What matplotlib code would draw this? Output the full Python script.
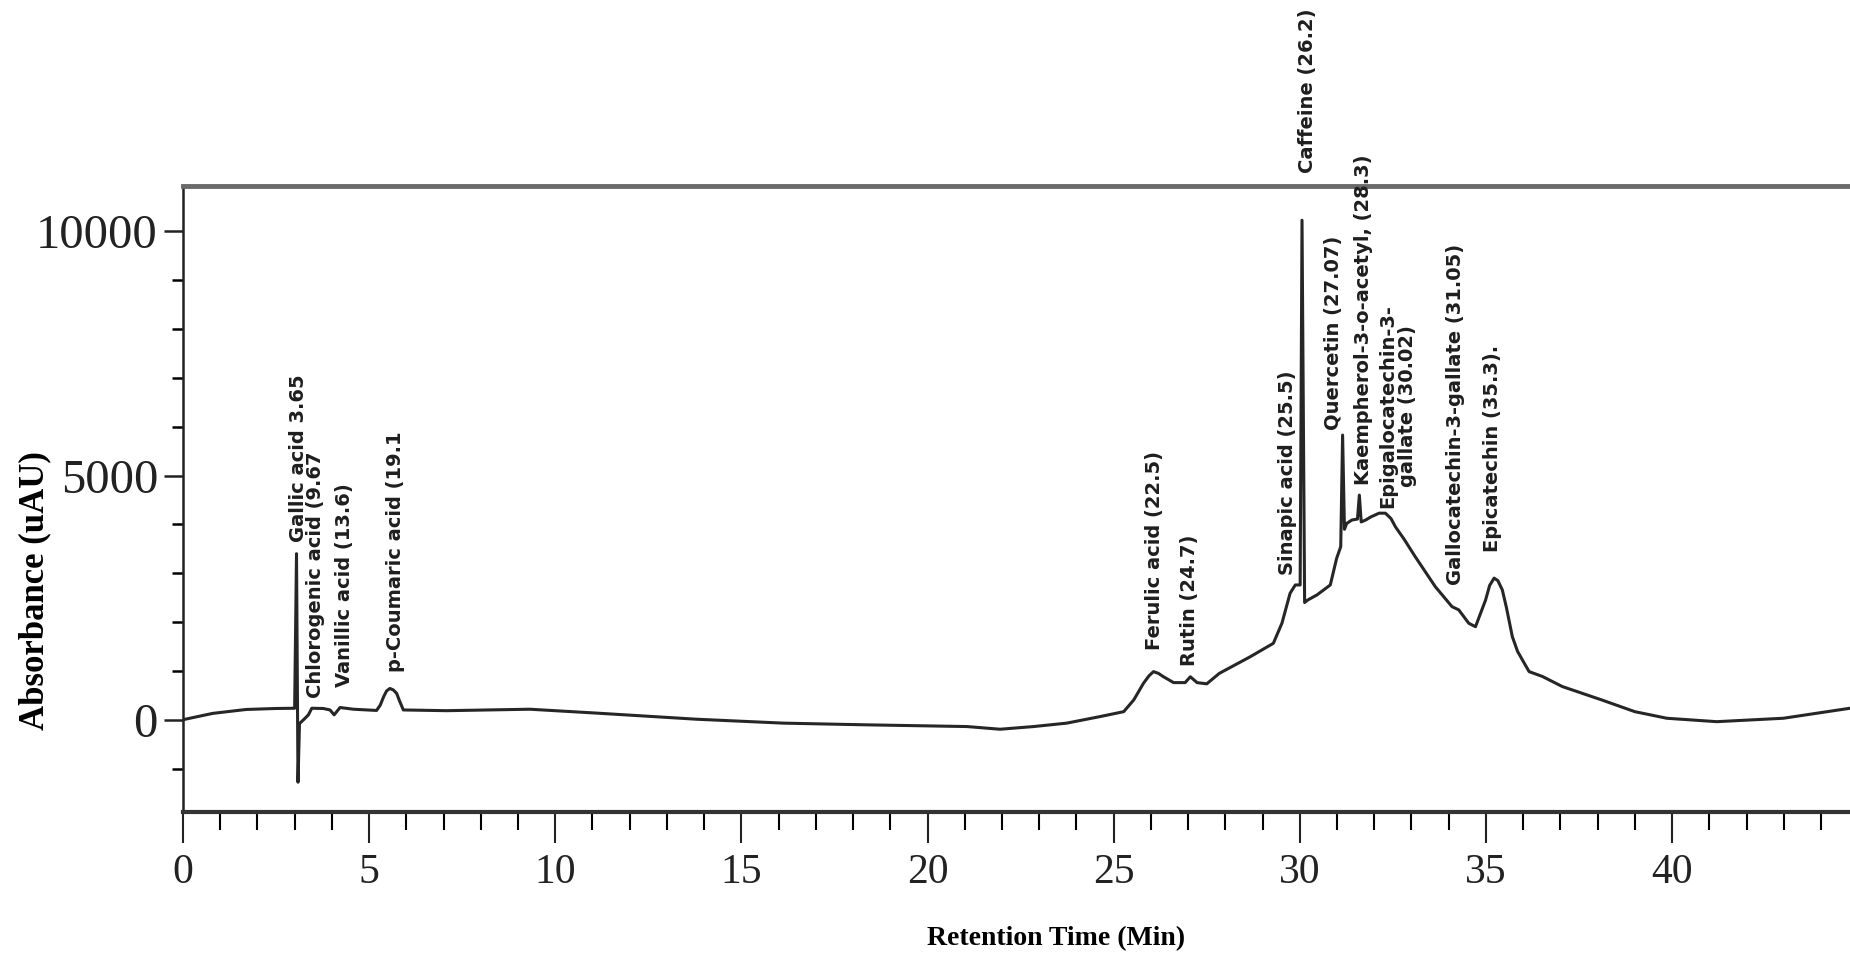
import matplotlib
matplotlib.use("Agg")
import matplotlib.pyplot as plt
from matplotlib.ticker import MultipleLocator, FixedLocator

# chromatogram trace (min, uAU)
time_min = [0.0, 0.8, 1.7, 2.5, 3.0, 3.05, 3.09, 3.13, 3.28, 3.37, 3.46, 3.77, 3.95, 4.06,
            4.22, 4.58, 5.2, 5.3, 5.39, 5.47, 5.56, 5.65, 5.74, 5.82, 5.92, 7.08, 9.32,
            11.12, 13.8, 16.13, 18.37, 21.06, 21.95, 22.85, 23.74, 24.64, 25.27, 25.54,
            25.8, 25.95, 26.07, 26.2, 26.34, 26.61, 26.92, 27.06, 27.24, 27.5, 27.84,
            28.67, 29.29, 29.52, 29.74, 29.88, 30.01, 30.06, 30.13, 30.21, 30.46, 30.82,
            30.99, 31.1, 31.15, 31.2, 31.26, 31.4, 31.55, 31.6, 31.65, 31.77, 31.9, 32.13,
            32.3, 32.45, 32.57, 32.8, 33.1, 33.64, 34.09, 34.27, 34.54, 34.72, 34.99, 35.1,
            35.22, 35.32, 35.44, 35.55, 35.71, 35.85, 35.98, 36.16, 36.52, 37.05, 38.13,
            39.0, 39.86, 41.2, 42.99, 44.78]
absorbance = [0, 130, 210, 230, 235, 3400, -1280, -80, 30, 100, 235, 230, 200, 100,
              250, 215, 190, 300, 470, 590, 640, 610, 540, 380, 200, 185, 215,
              135, 10, -70, -105, -140, -195, -140, -70, 65, 165, 405,
              745, 900, 985, 950, 880, 760, 760, 880, 760, 735, 950,
              1290, 1565, 1975, 2590, 2760, 2760, 10230, 2400, 2450, 2555, 2760,
              3305, 3545, 5830, 3900, 4020, 4090, 4110, 4600, 4050, 4090, 4150, 4230,
              4230, 4120, 3950, 3700, 3340, 2725, 2315, 2250, 1975, 1905, 2450, 2750,
              2900, 2850, 2660, 2300, 1700, 1400, 1225, 985, 885, 680, 400,
              165, 30, -40, 30, 235]

peak_names = ["Gallic acid 3.65", "Chlorogenic acid (9.67", "Vanillic acid (13.6)",
              "p-Coumaric acid (19.1", "Ferulic acid (22.5)", "Rutin (24.7)",
              "Sinapic acid (25.5)", "Caffeine (26.2)", "Quercetin (27.07)",
              "Kaempherol-3-o-acetyl, (28.3)", "Epigalocatechin-3-\ngallate (30.02)",
              "Gallocatechin-3-gallate (31.05)", "Epicatechin (35.3)."]
peak_label_x = [3.1, 3.56, 4.33, 5.7, 26.11, 27.04, 29.67, 30.2, 30.9, 31.7, 32.62, 34.17, 35.17]
peak_label_y = [3650, 440, 680, 985, 1430, 1090, 2960, 11190, 5930, 4800, 4330, 2760, 3440]

fig = plt.figure(figsize=(18.5, 9.58), dpi=100)
ax = fig.add_axes([0.0989, 0.1524, 0.9011, 0.6534])

ax.plot(time_min, absorbance, color="#262626", lw=2.2, solid_joinstyle="round")

for name, px, py in zip(peak_names, peak_label_x, peak_label_y):
    ax.text(px, py, name, rotation=90, ha="center", va="bottom", multialignment="center",
            linespacing=1.05, fontsize=14, fontweight="bold", family="DejaVu Sans",
            color="#1e1e1e", clip_on=False, zorder=5)

ax.set_xlim(0, 44.78)
ax.set_ylim(-1890, 10930)

ax.xaxis.set_major_locator(MultipleLocator(5))
ax.xaxis.set_minor_locator(MultipleLocator(1))
ax.yaxis.set_major_locator(FixedLocator([0, 5000, 10000]))
ax.yaxis.set_minor_locator(MultipleLocator(1000))

ax.tick_params(axis="x", which="major", direction="out", length=22, width=1.5, pad=8,
               labelsize=30, colors="#222222")
ax.tick_params(axis="x", which="minor", direction="out", length=13, width=1.5)
ax.tick_params(axis="y", which="major", direction="out", length=14, width=1.8, pad=4,
               labelsize=35, colors="#222222")
ax.tick_params(axis="y", which="minor", direction="out", length=8, width=1.8)
for lab in ax.get_xticklabels() + ax.get_yticklabels():
    lab.set_family("Liberation Serif")

ax.spines["right"].set_visible(False)
ax.spines["left"].set_linewidth(1.8)
ax.spines["left"].set_color("#222222")
ax.spines["bottom"].set_linewidth(3)
ax.spines["bottom"].set_color("#333333")
ax.spines["top"].set_linewidth(3.5)
ax.spines["top"].set_color("#6a6a6a")

ax.set_xlabel("Retention Time (Min)", family="Liberation Serif", fontweight="bold",
              fontsize=20)
ax.xaxis.set_label_coords(0.524, -0.183)
ax.set_ylabel("Absorbance (uAU)", family="Liberation Serif", fontweight="bold",
              fontsize=25)
ax.yaxis.set_label_coords(-0.079, 0.353)

fig.savefig("out.png", dpi=100)
